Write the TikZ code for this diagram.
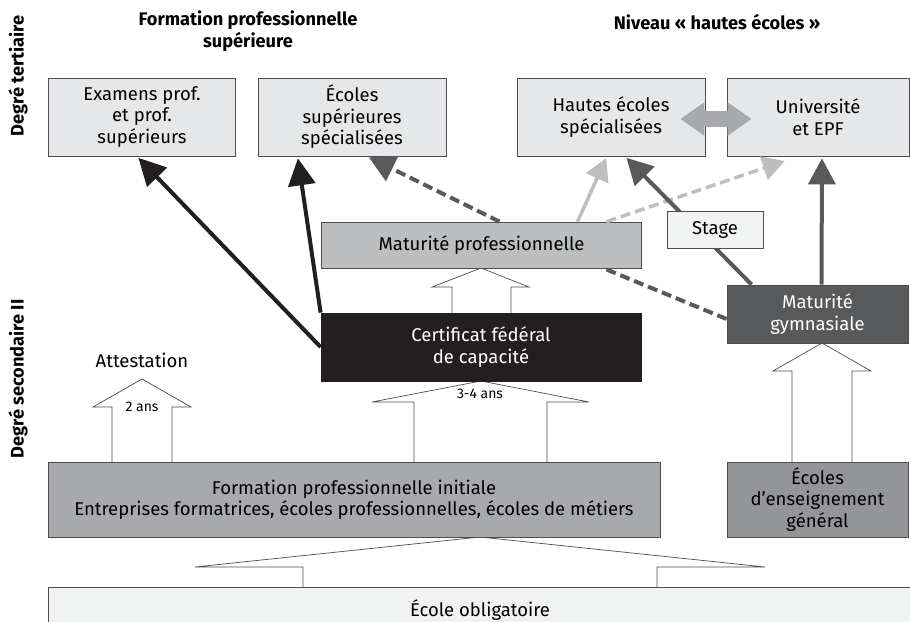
\documentclass[tikz,border=0pt]{standalone}
\usepackage{fontspec}
\setmainfont{Fira Sans}
\usetikzlibrary{arrows.meta,calc}
\definecolor{boxline}{HTML}{4D4D4F}
\definecolor{paleg}{HTML}{E6E7E8}
\definecolor{palerg}{HTML}{F1F2F2}
\definecolor{midg}{HTML}{BCBEC0}
\definecolor{initg}{HTML}{A7A9AC}
\definecolor{genrg}{HTML}{939598}
\definecolor{darkg}{HTML}{58595B}
\definecolor{inkg}{HTML}{231F20}
\newcommand{\blockarr}[8]{\filldraw[fill=white, draw=boxline, line width=0.7pt] ( #6 , #8 ) -- ( #6 , #3 ) -- ( #4 , #3 ) -- ( #1 , #2 ) -- ( #5 , #3 ) -- ( #7 , #3 ) -- ( #7 , #8 );}
\tikzset{
  box/.style={draw=boxline, line width=0.8pt, align=center, inner sep=0pt, font=\fontsize{18.5}{21.5}\selectfont},
  head/.style={align=center, font=\bfseries\fontsize{18.2}{22}\selectfont},
  small/.style={font=\fontsize{14}{16}\selectfont},
  blk/.style={-{Triangle[length=27pt,width=27pt]}, line width=4pt, inkg, shorten >=2pt},
  drk/.style={-{Triangle[length=26pt,width=27pt]}, line width=4pt, darkg, shorten >=2pt},
  lgt/.style={-{Triangle[length=22pt,width=24pt]}, line width=3.5pt, midg, shorten >=2pt},
  dsh/.style={dash pattern=on 10pt off 5pt}
}
\begin{document}
\begin{tikzpicture}[x=1pt, y=-1pt]
    \useasboundingbox (0,0) rectangle (910,621);
    % block arrows
    \blockarr{142}{379}{407}{93}{191}{112}{172}{462}
    \blockarr{481}{381}{402}{372}{589}{414}{547}{462}
    \blockarr{481}{268}{287}{432}{529}{452}{511}{313}
    \blockarr{822}{343}{371}{773}{871}{792}{852}{462}
    \blockarr{480}{537}{567}{195}{765}{303}{657}{587}
    % titles
    \node[head] (fps) at (248,31) {Formation professionnelle\\supérieure};
    \node[head] (niv) at (717,22) {Niveau « hautes écoles »};
    \node[head, rotate=90] (dter) at (18,76) {Degré tertiaire};
    \node[head, rotate=90] (dsec) at (18,379) {Degré secondaire II};
    % tertiary boxes
    \node[box, fill=paleg, minimum width=187pt, minimum height=78pt] (exam) at (142,117) {Examens prof.\\et prof.\\supérieurs};
    \node[box, fill=paleg, minimum width=188pt, minimum height=78pt] (esup) at (352,117) {Écoles\\supérieures\\spécialisées};
    \node[box, fill=paleg, minimum width=188pt, minimum height=78pt] (hes) at (611,117) {Hautes écoles\\spécialisées};
    \node[box, fill=paleg, minimum width=182pt, minimum height=78pt] (uni) at (818,117) {Université\\et EPF};
    % secondary boxes
    \node[box, fill=midg, minimum width=320pt, minimum height=46pt] (matpro) at (481.5,245) {Maturité professionnelle};
    \node[box, fill=inkg, draw=inkg, text=white, minimum width=320pt, minimum height=68pt] (cfc) at (481,347) {Certificat fédéral\\de capacité};
    \node[box, fill=darkg, text=white, minimum width=181pt, minimum height=58pt] (matgym) at (817.5,314) {Maturité\\gymnasiale};
    \node[box, fill=initg, minimum width=612pt, minimum height=75pt] (fpi) at (354,499.5) {Formation professionnelle initiale\\Entreprises formatrices, écoles professionnelles, écoles de métiers};
    \node[box, fill=genrg, minimum width=181pt, minimum height=75pt] (eeg) at (817.5,499.5) {Écoles\\d’enseignement\\général};
    \node[box, fill=palerg, minimum width=864pt, minimum height=46pt] (eob) at (480,610) {École obligatoire};
    % labels
    \node[box, draw=none] (att) at (142,360) {Attestation};
    \node[small] (ans2) at (142,407) {2 ans};
    \node[small] (ans34) at (480,394) {3-4 ans};
    % connectors
    \draw[blk] (cfc.west) -- ($(exam.south)+(-5,0)$);
    \draw[blk] (cfc.north west) -- ($(esup.south west)+(40,0)$);
    \draw[drk, dsh] ($(matpro.north)+(18,0)$) -- ($(esup.south)+(15,0)$);
    \draw[lgt] ($(matpro.north)+(96,0)$) -- ($(hes.south)+(-4,0)$);
    \draw[lgt, dsh] ($(matpro.north)+(125,0)$) -- ($(uni.south west)+(60,4)$);
    \draw[drk] ($(matgym.north west)+(25,0)$) -- ($(hes.south)+(14,0)$);
    \draw[drk] ($(matgym.north)+(4,0)$) -- ($(uni.south)+(4,0)$);
    \draw[darkg, line width=4pt, dsh] ($(matgym.west)+(0,5)$) -- ($(matpro.south east)+(-38,0)$);
    \draw[{Triangle[length=24pt,width=32pt]}-{Triangle[length=24pt,width=32pt]}, initg, line width=16pt] ($(hes.east)+(-25,2)$) -- ($(uni.west)+(25,2)$);
    % stage sits on the line
    \node[box, fill=palerg, minimum width=96pt, minimum height=37pt] (stage) at (715,229.5) {Stage};
\end{tikzpicture}
\end{document}
